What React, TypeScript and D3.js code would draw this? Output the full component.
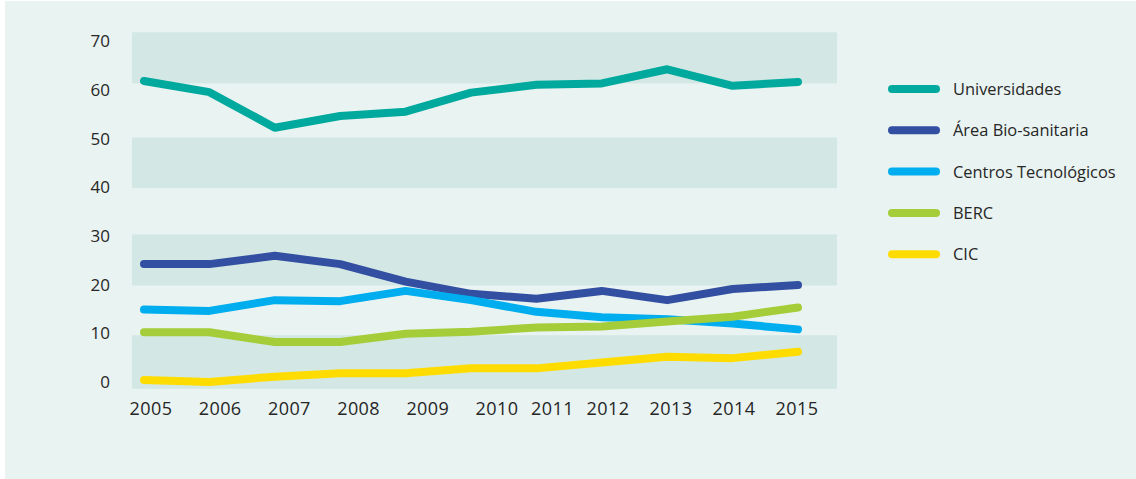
import React from "react";
import * as d3 from "d3";

const years = [2005, 2006, 2007, 2008, 2009, 2010, 2011, 2012, 2013, 2014, 2015];

const universidades = [61.8, 59.5, 52.2, 54.6, 55.5, 59.4, 61.0, 61.3, 64.2, 60.8, 61.6];
const bioSanitaria = [24.2, 24.2, 25.9, 24.2, 20.6, 18.1, 17.1, 18.7, 16.8, 19.1, 19.9];
const centrosTec = [14.9, 14.6, 16.8, 16.6, 18.7, 16.8, 14.4, 13.3, 12.9, 12.0, 10.8];
const berc = [10.2, 10.2, 8.2, 8.2, 9.9, 10.3, 11.2, 11.4, 12.4, 13.4, 15.3];
const cic = [0.4, 0.0, 1.1, 1.8, 1.8, 2.8, 2.8, 4.0, 5.2, 4.9, 6.2];

const seriesNames = ["Universidades", "Área Bio-sanitaria", "Centros Tecnológicos", "BERC", "CIC"];
const seriesValues = [universidades, bioSanitaria, centrosTec, berc, cic];
const seriesColors = ["#00a99d", "#324fa1", "#00aeef", "#a5cd39", "#ffdc00"];

const yTicks = [0, 10, 20, 30, 40, 50, 60, 70];
// shaded bands, in data units
const bands: [number, number][] = [[-1.4, 9.6], [19.8, 30.3], [39.8, 50.2], [61.3, 71.8]];

const W = 1136;
const H = 479;

export default function App() {
  const x = d3.scaleLinear().domain([2005, 2015]).range([144, 798]);
  // year labels in the original are not evenly spaced
  const xLabel = d3.scaleLinear().domain([2005, 2010, 2012, 2015]).range([151, 497, 608, 797]);
  const y = d3.scaleLinear().domain([0, 70]).range([382, 41]);

  const line = d3
    .line<number>()
    .x((_, i) => x(years[i]))
    .y((d) => y(d));

  const font = "'Open Sans', sans-serif";

  return (
    <svg
      width={W}
      height={H}
      style={{ position: "absolute", left: 0, top: 0, display: "block" }}
    >
      <rect x={0} y={0} width={W} height={H} fill="#fff" />
      <rect x={5} y={1} width={W - 5} height={H - 1} fill="#e9f3f1" />

      {bands.map(([a, b], i) => (
        <rect key={i} x={132} width={705} y={y(b)} height={y(a) - y(b)} fill="#d3e8e4" />
      ))}

      {yTicks.map((t) => (
        <text
          key={t}
          x={110}
          y={y(t)}
          dy="0.36em"
          textAnchor="end"
          fontFamily={font}
          fontSize={17}
          fill="#262626"
        >
          {t}
        </text>
      ))}

      {years.map((yr) => (
        <text
          key={yr}
          x={xLabel(yr)}
          y={409}
          dy="0.36em"
          textAnchor="middle"
          fontFamily={font}
          fontSize={18}
          letterSpacing={0.4}
          fill="#262626"
        >
          {yr}
        </text>
      ))}

      {seriesValues.map((vals, i) => (
        <path
          key={seriesNames[i]}
          d={line(vals) || ""}
          fill="none"
          stroke={seriesColors[i]}
          strokeWidth={8}
          strokeLinecap="round"
          strokeLinejoin="round"
        />
      ))}

      {seriesNames.map((name, i) => {
        const ly = 89 + i * 41.3;
        return (
          <g key={name}>
            <line
              x1={892}
              x2={936}
              y1={ly}
              y2={ly}
              stroke={seriesColors[i]}
              strokeWidth={8}
              strokeLinecap="round"
            />
            <text
              x={953}
              y={ly}
              dy="0.36em"
              fontFamily={font}
              fontSize={16.4}
              fill="#262626"
            >
              {name}
            </text>
          </g>
        );
      })}
    </svg>
  );
}
